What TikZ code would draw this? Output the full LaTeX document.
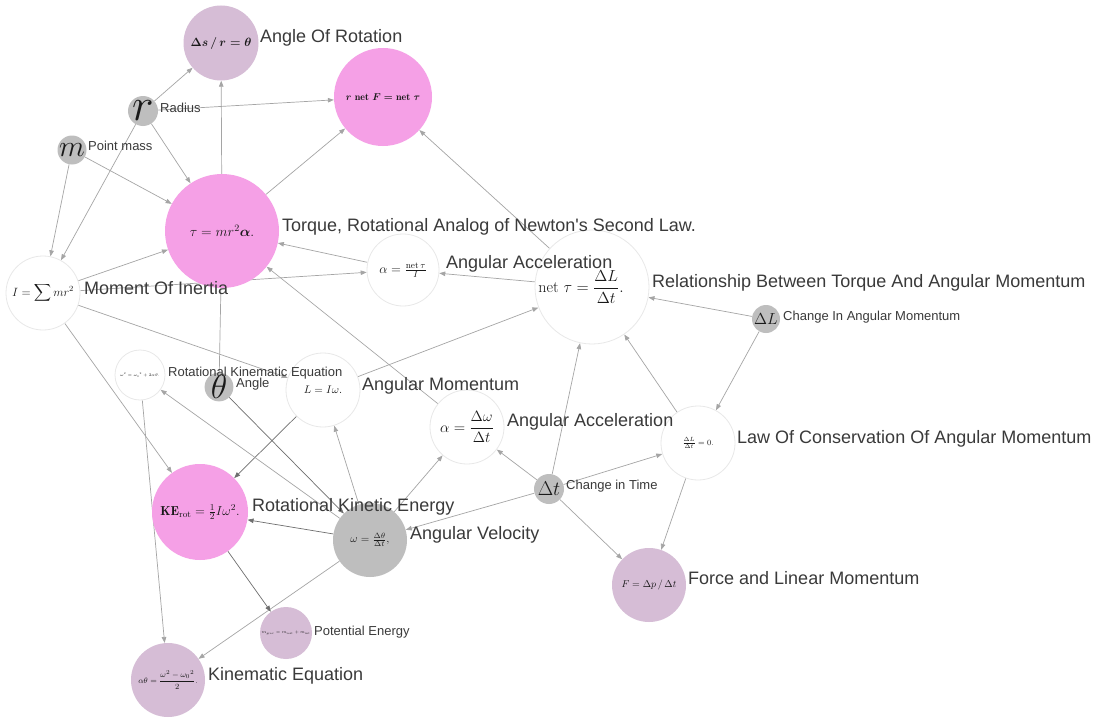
\RequirePackage{fix-cm}
\documentclass[tikz,border=0pt]{standalone}
\usepackage{amsmath}
\usepackage{fontspec}
\newfontfamily\lblfont{Liberation Sans}
\usetikzlibrary{arrows.meta}
\pgfdeclarelayer{edges}
\pgfsetlayers{edges,main}

\definecolor{nodepink}{RGB}{245,160,230}
\definecolor{nodelav}{RGB}{214,189,214}
\definecolor{nodegray}{RGB}{190,190,190}
\definecolor{ringgray}{RGB}{232,232,232}
\definecolor{linklight}{RGB}{165,165,165}
\definecolor{linkdark}{RGB}{110,110,110}
\definecolor{labeltext}{RGB}{58,58,58}

\newcommand{\fs}[1]{\fontsize{#1}{#1}\selectfont}

\begin{document}
\begin{tikzpicture}[x=1pt,y=-1pt,
  bub/.style={circle,inner sep=0pt,minimum size=#1,text=black!90},
  pinkbub/.style={bub=#1,fill=nodepink},
  lavbub/.style={bub=#1,fill=nodelav},
  graybub/.style={bub=#1,fill=nodegray},
  whitebub/.style={bub=#1,fill=white,draw=ringgray,line width=0.8pt},
  biglbl/.style={anchor=base west,inner sep=0pt,text=labeltext,font=\lblfont\fs{18}},
  smalllbl/.style={anchor=base west,inner sep=0pt,text=labeltext,font=\lblfont\fs{13}},
  link/.style={draw=linklight,line width=0.7pt,-{Triangle[length=6pt,width=4.5pt]}},
  darklink/.style={link,draw=linkdark},
  plainlink/.style={draw=linklight,line width=0.7pt}]

\useasboundingbox (0,0) rectangle (1099,717);

% concept bubbles
\node[lavbub=75]   (rot)    at (221,43)  {\fs{12}$\boldsymbol{\Delta s\,/\,r=\theta}$};
\node[pinkbub=98]  (rnet)   at (383,97)  {\fs{10}$\boldsymbol{r\ \mathrm{net}\ F=\mathrm{net}\ \tau}$};
\node[graybub=30]  (rad)    at (143,111) {\fs{46}$r$};
\node[graybub=29]  (mass)   at (72,150)  {\fs{30}$m$};
\node[pinkbub=114] (torque) at (222,231) {\fs{14}$\tau=mr^2\boldsymbol{\alpha}.$};
\node[whitebub=74] (inert)  at (43,293)  {\fs{12}$I=\displaystyle\sum\nolimits mr^2$};
\node[whitebub=72] (acc1)   at (403,270) {\fs{13}$\alpha=\frac{\mathrm{net}\,\tau}{I}$};
\node[whitebub=114](nettau) at (592,287) {\hspace*{-22pt}\fs{16}$\mathrm{net}\ \tau=\dfrac{\Delta L}{\Delta t}.$};
\node[graybub=28]  (dL)     at (766,319) {\fs{16}$\Delta L$};
\node[whitebub=50] (rotkin) at (140,375) {\fs{4}$\omega^2=\omega_0{}^2+2\alpha\theta.$};
\node[graybub=28]  (theta)  at (219,387) {\fs{34}$\theta$};
\node[whitebub=74] (angmom) at (323,390) {\fs{11}$L=I\omega.$};
\node[whitebub=74] (acc2)   at (467,427) {\fs{15}$\alpha=\dfrac{\Delta\omega}{\Delta t}$};
\node[whitebub=74] (cons)   at (698,443) {\fs{8}$\frac{\Delta L}{\Delta t}=0.$};
\node[graybub=30]  (dt)     at (549,489) {\fs{20}$\Delta t$};
\node[pinkbub=96]  (ke)     at (200,512) {\fs{13}$\mathrm{\mathbf{KE}}_{\mathrm{rot}}=\frac12 I\omega^2.$};
\node[graybub=74]  (omega)  at (370,540) {\fs{11}$\omega=\frac{\Delta\theta}{\Delta t},$};
\node[lavbub=74]   (force)  at (649,585) {\fs{10}$F=\Delta p\,/\,\Delta t$};
\node[lavbub=52]   (pe)     at (286,633) {\fs{4}$m_{\mathrm{grav}}=m_{\mathrm{rest}}+m_{\mathrm{int}}$};
\node[lavbub=74]   (kineq)  at (168,680) {\fs{8}$\alpha\theta=\dfrac{\omega^2-\omega_0{}^2}{2}.$};

% captions beside the bubbles
\node[biglbl]   (lrot)    at (260,43)  {Angle Of Rotation};
\node[smalllbl] (lrad)    at (160,112) {Radius};
\node[smalllbl] (lmass)   at (88,150)  {Point mass};
\node[biglbl]   (ltorque) at (282,231) {Torque, Rotational Analog of Newton's Second Law.};
\node[biglbl]   (linert)  at (84,294)  {Moment Of Inertia};
\node[biglbl]   (lacc1)   at (446,268) {Angular Acceleration};
\node[biglbl]   (lnettau) at (652,287) {Relationship Between Torque And Angular Momentum};
\node[smalllbl] (ldL)     at (783,320) {Change In Angular Momentum};
\node[smalllbl] (lrotkin) at (168,376) {Rotational Kinematic Equation};
\node[smalllbl] (ltheta)  at (236,387) {Angle};
\node[biglbl]   (langmom) at (362,390) {Angular Momentum};
\node[biglbl]   (lacc2)   at (507,426) {Angular Acceleration};
\node[biglbl]   (lcons)   at (737,443) {Law Of Conservation Of Angular Momentum};
\node[smalllbl] (ldt)     at (566,489) {Change in Time};
\node[biglbl]   (lke)     at (252,511) {Rotational Kinetic Energy};
\node[biglbl]   (lomega)  at (410,539) {Angular Velocity};
\node[biglbl]   (lforce)  at (688,584) {Force and Linear Momentum};
\node[smalllbl] (lpe)     at (314,635) {Potential Energy};
\node[biglbl]   (lkineq)  at (208,680) {Kinematic Equation};

% white page and connectors, kept behind the bubbles
\begin{pgfonlayer}{edges}
\fill[white] (0,0) rectangle (1099,717);
\draw[link] (rad) -- (rot);
\draw[link] (rad) -- (rnet);
\draw[link] (rad) -- (torque);
\draw[link] (rad) -- (inert);
\draw[link] (mass) -- (inert);
\draw[link] (mass) -- (torque);
\draw[link] (torque) -- (rot);
\draw[link] (torque) -- (rnet);
\draw[link] (inert) -- (torque);
\draw[link] (acc1) -- (torque);
\draw[link] (inert) -- (acc1);
\draw[link] (nettau) -- (acc1);
\draw[link] (nettau) -- (rnet);
\draw[link] (acc2) -- (torque);
\draw[link] (inert) -- (angmom);
\draw[link] (inert) -- (ke);
\draw[link] (rotkin) -- (kineq);
\draw[plainlink] (torque) -- (theta);
\draw[link] (angmom) -- (nettau);
\draw[darklink] (angmom) -- (ke);
\draw[link] (omega) -- (angmom);
\draw[link] (omega) -- (acc2);
\draw[darklink] (omega) -- (ke);
\draw[link] (omega) -- (rotkin);
\draw[darklink] (theta) -- (omega);
\draw[link] (dt) -- (omega);
\draw[link] (dt) -- (acc2);
\draw[link] (dt) -- (nettau);
\draw[link] (dt) -- (cons);
\draw[link] (dt) -- (force);
\draw[link] (omega) -- (kineq);
\draw[darklink] (ke) -- (pe);
\draw[link] (dL) -- (nettau);
\draw[link] (dL) -- (cons);
\draw[link] (cons) -- (nettau);
\draw[link] (cons) -- (force);
\end{pgfonlayer}
\end{tikzpicture}
\end{document}
